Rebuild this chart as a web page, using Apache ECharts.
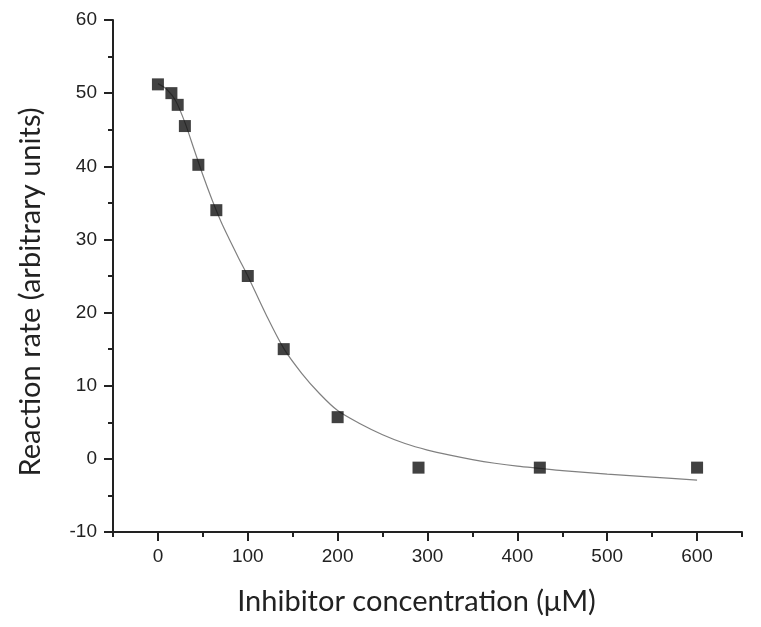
<!DOCTYPE html>
<html>
<head>
<meta charset="utf-8">
<script src="https://cdn.jsdelivr.net/npm/echarts@6/dist/echarts.min.js"></script>
<style>
  html, body { margin: 0; padding: 0; background: #fff; }
  #chart { width: 761px; height: 627px; }
</style>
</head>
<body>
<div id="chart"></div>
<script>
// measured points
const concentration = [0, 15, 22, 30, 45, 65, 100, 140, 200, 290, 425, 600];
const rate = [51.2, 50.0, 48.4, 45.5, 40.2, 34.0, 25.0, 15.0, 5.7, -1.2, -1.2, -1.2];

// fitted curve
const fitX = [0, 10, 20, 30, 40, 50, 60, 70, 80, 90, 100, 120, 140, 160, 180, 200, 225, 250, 275, 300, 325, 350, 375, 400, 425, 450, 500, 550, 600];
const fitY = [51.3, 50.5, 48.9, 46.0, 42.4, 38.8, 35.5, 32.5, 29.9, 27.4, 25.0, 19.8, 15.1, 11.7, 8.9, 6.6, 4.8, 3.3, 2.1, 1.2, 0.5, -0.1, -0.6, -1.0, -1.3, -1.6, -2.1, -2.5, -2.9];

const xTicks = [0, 100, 200, 300, 400, 500, 600];

const chart = echarts.init(document.getElementById('chart'));

const labelFont = { fontFamily: 'Liberation Sans', fontSize: 19, color: '#222' };
const nameFont = { fontFamily: 'Lato', fontSize: 29, color: '#222' };
const tickLine = { color: '#222', width: 2 };

// x spans -50..650 over the main grid; the second grid covers 0..600 only
const gridL = 113, gridR = 19, W = 761;
const pxPerUnit = (W - gridL - gridR) / 700;

chart.setOption({
  backgroundColor: '#fff',
  animation: false,
  grid: [
    { left: gridL, right: gridR, top: 20, bottom: 95 },
    { left: gridL + 50 * pxPerUnit, right: gridR + 50 * pxPerUnit, top: 20, bottom: 95 }
  ],
  xAxis: [
    {
      type: 'value',
      gridIndex: 0,
      min: -50,
      max: 650,
      interval: 50,
      name: 'Inhibitor concentration (μM)',
      nameLocation: 'middle',
      nameGap: 55,
      nameTextStyle: Object.assign({ padding: [0, 22, 0, 0] }, nameFont),
      splitLine: { show: false },
      axisLine: { onZero: false, lineStyle: { color: '#222', width: 2 } },
      axisTick: { length: 5, lineStyle: tickLine },
      axisLabel: Object.assign({ customValues: xTicks, margin: 15 }, labelFont)
    },
    {
      // major ticks every 100
      type: 'value',
      gridIndex: 1,
      min: 0,
      max: 600,
      interval: 100,
      splitLine: { show: false },
      axisLine: { show: false, onZero: false },
      axisTick: { show: true, length: 9, lineStyle: tickLine },
      axisLabel: { show: false }
    }
  ],
  yAxis: [
    {
      type: 'value',
      gridIndex: 0,
      min: -10,
      max: 60,
      interval: 10,
      name: 'Reaction rate (arbitrary units)',
      nameLocation: 'middle',
      nameGap: 68,
      nameTextStyle: Object.assign({ padding: [0, 32, 0, 0] }, nameFont),
      splitLine: { show: false },
      axisLine: { onZero: false, lineStyle: { color: '#222', width: 2 } },
      axisTick: { length: 9, lineStyle: tickLine },
      minorTick: { show: true, splitNumber: 2, length: 5, lineStyle: tickLine },
      axisLabel: Object.assign({ margin: 16 }, labelFont)
    },
    {
      type: 'value',
      gridIndex: 1,
      min: -10,
      max: 60,
      show: false
    }
  ],
  series: [
    {
      type: 'line',
      data: fitX.map((x, i) => [x, fitY[i]]),
      smooth: 0.3,
      showSymbol: false,
      lineStyle: { color: '#808080', width: 1.2 },
      z: 2
    },
    {
      type: 'scatter',
      data: concentration.map((x, i) => [x, rate[i]]),
      symbol: 'rect',
      symbolSize: 12,
      itemStyle: { color: '#111' },
      z: 3
    }
  ]
});
</script>
</body>
</html>
